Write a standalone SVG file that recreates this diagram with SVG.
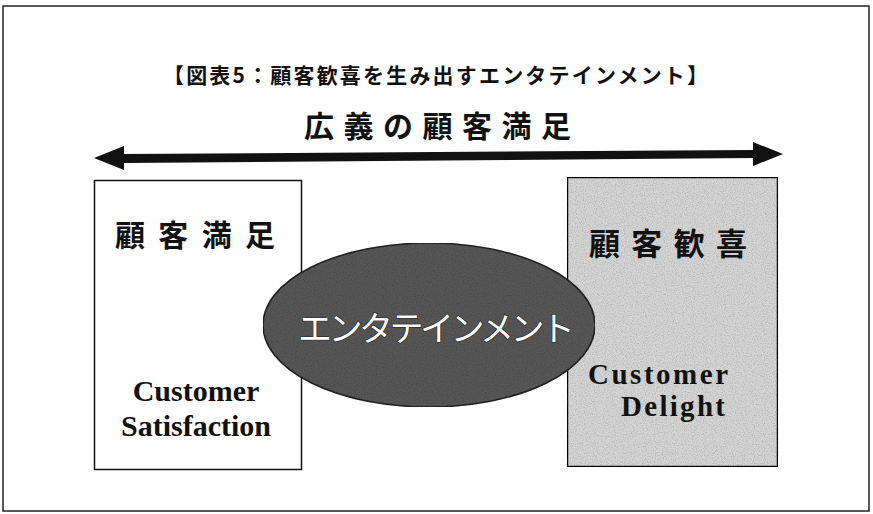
<svg xmlns="http://www.w3.org/2000/svg" width="873" height="514" viewBox="0 0 873 514">
<defs>
<style>
.jp{font-family:"Noto Sans CJK JP","Noto Sans",sans-serif;fill:#111;}
.en{font-family:"Liberation Serif","DejaVu Serif",serif;font-weight:bold;fill:#111;}
.box{stroke:#111;stroke-width:1.5;}
</style>
<filter id="grain" x="0" y="0" width="100%" height="100%">
<feTurbulence type="fractalNoise" baseFrequency="0.9" numOctaves="2" seed="3" result="n"/>
<feColorMatrix in="n" type="matrix" values="0 0 0 0 0  0 0 0 0 0  0 0 0 0 0  0 0 0 0.7 -0.3" result="a"/>
<feComposite in="a" in2="SourceGraphic" operator="in" result="dots"/>
<feMerge><feMergeNode in="SourceGraphic"/><feMergeNode in="dots"/></feMerge>
</filter>
</defs>
<rect width="873" height="514" fill="#ffffff"/>
<g id="frame"><rect x="3" y="6" width="866" height="505" fill="none" stroke="#222" stroke-width="1.5"/></g>
<g id="title"><text class="jp" x="163" y="83" font-size="21" font-weight="bold" textLength="545" lengthAdjust="spacing">【図表5：顧客歓喜を生み出すエンタテインメント】</text></g>
<g id="heading"><text class="jp" x="304" y="137" font-size="30" font-weight="bold" textLength="267" lengthAdjust="spacing">広義の顧客満足</text></g>
<g id="connectors">
<polygon points="94,158 124,146 124,154 753,150 753,142 783,154 753,166 753,158 124,163 124,170" fill="#111"/>
</g>
<g id="node-satisfaction">
<rect class="box" x="94.5" y="180.5" width="207" height="289" fill="#ffffff"/>
<text class="jp" x="115" y="246" font-size="30" font-weight="bold" textLength="160" lengthAdjust="spacing">顧客満足</text>
<text class="en" x="196" y="401" font-size="30" text-anchor="middle">Customer</text>
<text class="en" x="196" y="436" font-size="30" text-anchor="middle">Satisfaction</text>
</g>
<g id="node-delight">
<rect class="box" x="567.5" y="177.5" width="210" height="289" fill="#d4d4d4" filter="url(#grain)"/>
<text class="jp" x="589" y="255" font-size="31" font-weight="bold" textLength="158" lengthAdjust="spacing">顧客歓喜</text>
<text class="en" x="588" y="384" font-size="29" textLength="140" lengthAdjust="spacing">Customer</text>
<text class="en" x="621" y="416" font-size="29" textLength="104" lengthAdjust="spacing">Delight</text>
</g>
<g id="node-entertainment">
<ellipse cx="429" cy="325" rx="166" ry="82" fill="#575757" stroke="#222" stroke-width="1.5" filter="url(#grain)"/>
<text class="jp" x="298" y="341" font-size="34" stroke="#222" stroke-width="1.2" paint-order="stroke" textLength="277" lengthAdjust="spacing" style="fill:#ffffff">エンタテインメント</text>
</g>
</svg>
